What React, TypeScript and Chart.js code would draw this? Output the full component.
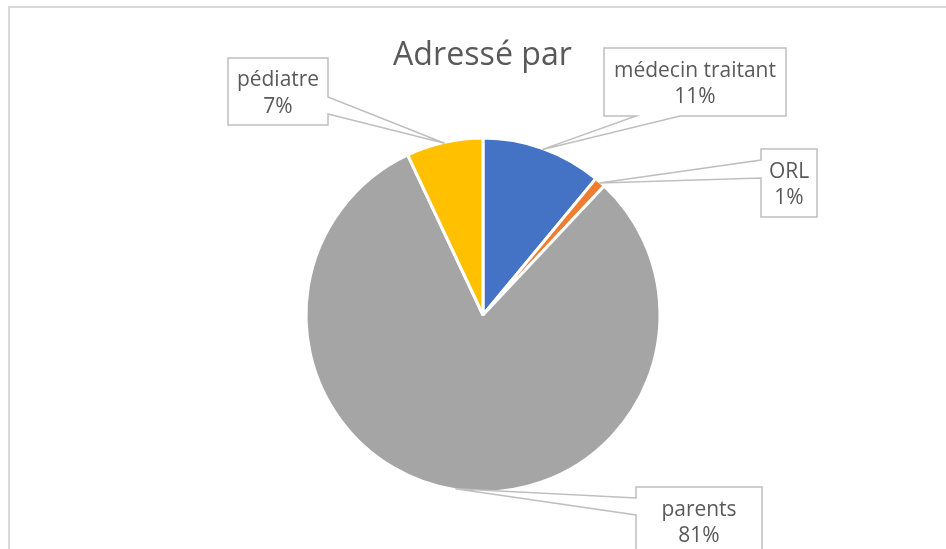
import React, { useEffect, useRef } from "react";
import { Chart, registerables } from "chart.js";

Chart.register(...registerables);

const categories = ["médecin traitant", "ORL", "parents", "pédiatre"];
const values = [11, 1, 81, 7];
const colors = ["#4472C4", "#ED7D31", "#A5A5A5", "#FFC000"];
const chartTitle = "Adressé par";

const FONT = "'Open Sans', 'Noto Sans', sans-serif";
const TEXT_COLOR = "#595959";

// callout layout: box rect, side where the pointer leaves the box, and the two attach coordinates on that side
const callouts = [
  { x: 604, y: 48, w: 182, h: 68, side: "bottom", a: 636, b: 680 },
  { x: 761, y: 149, w: 56, h: 68, side: "left", a: 160, b: 178 },
  { x: 636, y: 487, w: 126, h: 68, side: "left", a: 498, b: 515 },
  { x: 228, y: 58, w: 100, h: 67, side: "right", a: 97, b: 114 },
];

function fitSize(ctx: CanvasRenderingContext2D, text: string, target: number) {
  ctx.font = `100px ${FONT}`;
  const w = ctx.measureText(text).width;
  return (100 * target) / w;
}

const decorPlugin = {
  id: "decor",
  beforeDraw(chart: any) {
    const ctx = chart.ctx as CanvasRenderingContext2D;
    ctx.save();
    ctx.fillStyle = "#ffffff";
    ctx.fillRect(0, 0, chart.width, chart.height);
    ctx.strokeStyle = "#d9d9d9";
    ctx.lineWidth = 2;
    ctx.beginPath();
    ctx.moveTo(9, chart.height + 10);
    ctx.lineTo(9, 7);
    ctx.lineTo(chart.width + 10, 7);
    ctx.stroke();
    // title
    const ts = fitSize(ctx, chartTitle, 179);
    ctx.font = `${ts}px ${FONT}`;
    ctx.fillStyle = TEXT_COLOR;
    ctx.textAlign = "center";
    ctx.textBaseline = "alphabetic";
    ctx.fillText(chartTitle, 482.5, 65);
    ctx.restore();
  },
  afterDatasetsDraw(chart: any) {
    const ctx = chart.ctx as CanvasRenderingContext2D;
    const meta = chart.getDatasetMeta(0);
    const data = chart.data.datasets[0].data as number[];
    const total = data.reduce((s, v) => s + v, 0);
    const ls = fitSize(ctx, "médecin traitant", 162);
    ctx.save();
    meta.data.forEach((arc: any, i: number) => {
      const c = callouts[i];
      const mid = (arc.startAngle + arc.endAngle) / 2;
      const px = arc.x + Math.cos(mid) * (arc.outerRadius - 1);
      const py = arc.y + Math.sin(mid) * (arc.outerRadius - 1);
      const L = c.x, T = c.y, R = c.x + c.w, B = c.y + c.h;
      ctx.beginPath();
      ctx.moveTo(L, T);
      if (c.side === "top") {
        ctx.lineTo(c.a, T); ctx.lineTo(px, py); ctx.lineTo(c.b, T);
      }
      ctx.lineTo(R, T);
      if (c.side === "right") {
        ctx.lineTo(R, c.a); ctx.lineTo(px, py); ctx.lineTo(R, c.b);
      }
      ctx.lineTo(R, B);
      if (c.side === "bottom") {
        ctx.lineTo(c.b, B); ctx.lineTo(px, py); ctx.lineTo(c.a, B);
      }
      ctx.lineTo(L, B);
      if (c.side === "left") {
        ctx.lineTo(L, c.b); ctx.lineTo(px, py); ctx.lineTo(L, c.a);
      }
      ctx.closePath();
      ctx.fillStyle = "#ffffff";
      ctx.fill();
      ctx.strokeStyle = "#bfbfbf";
      ctx.lineWidth = 1.5;
      ctx.lineJoin = "miter";
      ctx.stroke();

      const pct = Math.round((data[i] / total) * 100) + "%";
      const lines = [chart.data.labels[i] as string, pct];
      ctx.font = `${ls}px ${FONT}`;
      ctx.fillStyle = TEXT_COLOR;
      ctx.textAlign = "center";
      ctx.textBaseline = "alphabetic";
      const cx = (L + R) / 2;
      const cy = (T + B) / 2;
      lines.forEach((t, k) => {
        ctx.fillText(t, cx, cy + (k - 0.5) * 26.5 + 8);
      });
    });
    ctx.restore();
  },
};

export default function App() {
  const ref = useRef<HTMLCanvasElement | null>(null);
  useEffect(() => {
    if (!ref.current) return;
    const chart = new Chart(ref.current, {
      type: "pie",
      data: {
        labels: categories,
        datasets: [
          {
            data: values,
            backgroundColor: colors,
            borderColor: "#ffffff",
            borderWidth: 3,
          },
        ],
      },
      options: {
        responsive: false,
        animation: false,
        events: [],
        layout: {
          padding: { left: 304.5, right: 284.5, top: 136.5, bottom: 55.5 },
        },
        plugins: {
          legend: { display: false },
          tooltip: { enabled: false },
          title: { display: false },
        },
      },
      plugins: [decorPlugin],
    });
    return () => chart.destroy();
  }, []);
  return (
    <div style={{ position: "fixed", left: 0, top: 0, width: 946, height: 549 }}>
      <canvas ref={ref} width={946} height={549} />
    </div>
  );
}
